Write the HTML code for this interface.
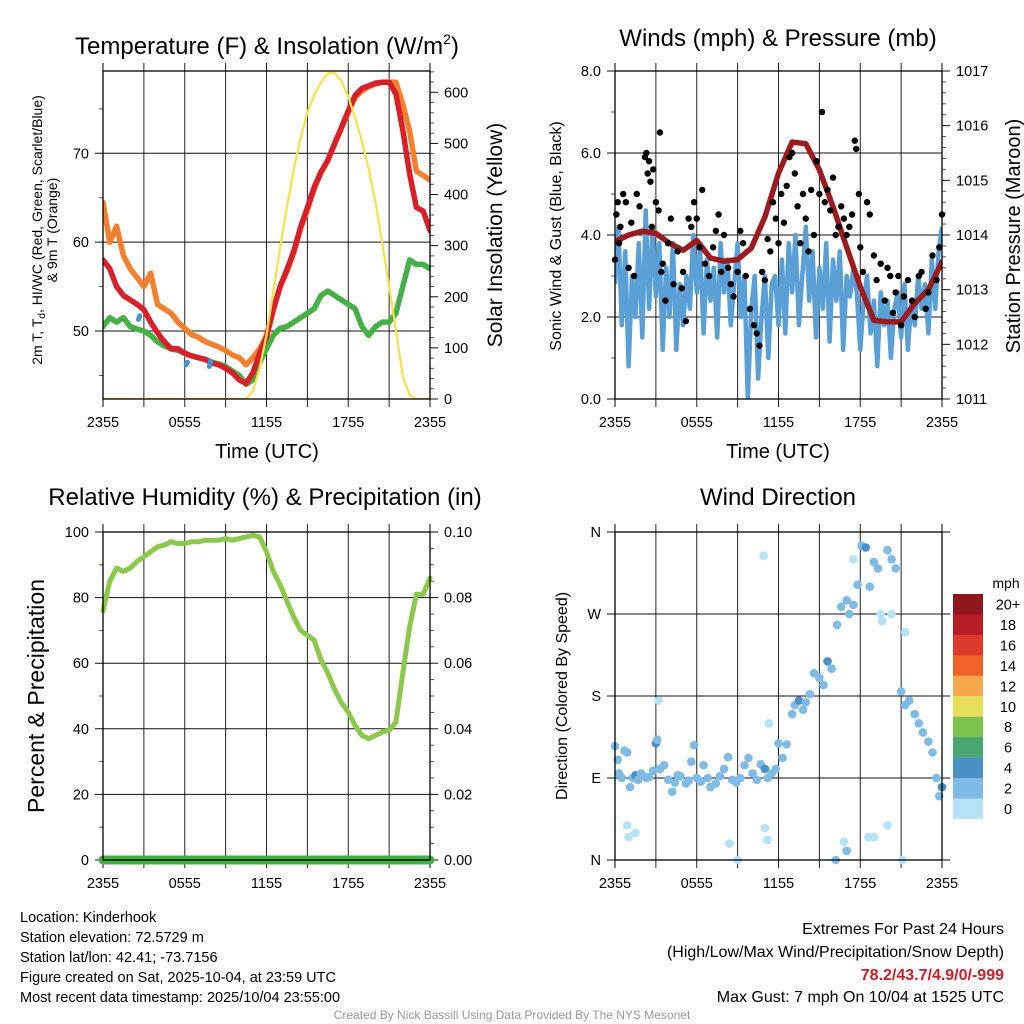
<!DOCTYPE html>
<html><head><meta charset="utf-8">
<style>
html,body{margin:0;padding:0;background:#fff;}
svg{display:block;font-family:"Liberation Sans",sans-serif;}
</style></head>
<body>
<svg id="chart" width="1024" height="1024" viewBox="0 0 1024 1024" xmlns="http://www.w3.org/2000/svg">
<rect x="0" y="0" width="1024" height="1024" fill="#fff"/>
<text x="267" y="54" font-size="24" text-anchor="middle">Temperature (F) &amp; Insolation (W/m<tspan font-size="14" dy="-10">2</tspan><tspan dy="10">)</tspan></text>
<text x="778" y="46" font-size="24" text-anchor="middle">Winds (mph) &amp; Pressure (mb)</text>
<text x="265" y="505" font-size="24" text-anchor="middle">Relative Humidity (%) &amp; Precipitation (in)</text>
<text x="778" y="505" font-size="24" text-anchor="middle">Wind Direction</text>

<text transform="translate(42,230) rotate(-90)" font-size="14" text-anchor="middle">2m T, T<tspan font-size="10" dy="3">d</tspan><tspan dy="-3">, HI/WC (Red, Green, Scarlet/Blue)</tspan></text>
<text transform="translate(57,230) rotate(-90)" font-size="14" text-anchor="middle">&amp; 9m T (Orange)</text>
<text transform="translate(502,235) rotate(-90)" font-size="21" text-anchor="middle">Solar Insolation (Yellow)</text>
<text x="267" y="458" font-size="20" text-anchor="middle">Time (UTC)</text>
<text transform="translate(561,236) rotate(-90)" font-size="16" text-anchor="middle">Sonic Wind &amp; Gust (Blue, Black)</text>
<text transform="translate(1020,236) rotate(-90)" font-size="20" text-anchor="middle">Station Pressure (Maroon)</text>
<text x="778" y="458" font-size="20" text-anchor="middle">Time (UTC)</text>
<text transform="translate(44,696) rotate(-90)" font-size="23" text-anchor="middle">Percent &amp; Precipitation</text>
<text transform="translate(567,696) rotate(-90)" font-size="16" text-anchor="middle">Direction (Colored By Speed)</text>

<g font-size="14.5">
<text x="20" y="922">Location: Kinderhook</text>
<text x="20" y="942">Station elevation: 72.5729 m</text>
<text x="20" y="962">Station lat/lon: 42.41; -73.7156</text>
<text x="20" y="982">Figure created on Sat, 2025-10-04, at 23:59 UTC</text>
<text x="20" y="1002">Most recent data timestamp: 2025/10/04 23:55:00</text>
</g>
<g font-size="16" text-anchor="end">
<text x="1004" y="934">Extremes For Past 24 Hours</text>
<text x="1004" y="957">(High/Low/Max Wind/Precipitation/Snow Depth)</text>
<text x="1004" y="980" fill="#c8202a" font-weight="bold">78.2/43.7/4.9/0/-999</text>
<text x="1004" y="1002">Max Gust: 7 mph On 10/04 at 1525 UTC</text>
</g>
<text x="512" y="1019" font-size="12" fill="#999" text-anchor="middle">Created By Nick Bassill Using Data Provided By The NYS Mesonet</text>
</svg>
<script>
// ---------- data ----------
const halfHours = [];
for (let i = 0; i <= 48; i++) halfHours.push(i * 0.5);
const temp2m = [58,57,55,54,53.5,53,52.4,51,49.8,48.8,48,48,47.5,47.2,47,46.8,46.4,46.2,45.8,45.3,44.5,44.1,45.3,47.5,49.3,52.4,55,56.9,59,61.7,63.9,66.2,67.9,69.2,71.1,72.9,74.8,76.5,77.3,77.6,77.9,78,78,76.7,72.6,67.7,63.9,63.5,61.3];
const temp9m = [64.5,60,61.8,58.5,57,56,55,56.5,53,52.5,52,51,50.3,49.6,49.3,48.8,48.5,48.2,47.8,47.3,47,46.2,47,48,49.5,52.4,55,56.7,58.8,61.5,63.6,66,67.8,69.2,71,72.8,74.6,76.3,77,77.5,77.8,78,78,78,75.5,72.5,68,67.5,67];
const dewpoint = [50.5,51.5,51,51.5,50.5,50.2,50,49.5,48.8,48.3,48,47.8,47.5,47.2,47,46.8,46.5,46.3,46,45.5,45,44,44.5,46.5,48,49.5,50.3,50.5,51,51.5,52,52.5,54,54.5,54,53.5,53,52.5,50.5,49.5,50.5,51,51,52,55,58,57.5,57.5,57];
const solar = [0,0,0,0,0,0,0,0,0,0,0,0,0,0,0,0,0,0,0,0,0,0,15,60,125,210,295,375,450,510,560,595,620,637,638,622,591,550,505,450,385,305,220,135,45,8,0,0,0];
const windChillHours = [2.6,2.7,6.1,6.2,7.8,7.9,9.1];
const windChillVals = [51.3,51.7,46.2,46.5,46.0,46.6,45.6];

const windHours = [];
for (let i = 0; i <= 96; i++) windHours.push(i * 0.25);
const windSpeed = [2.8,4.2,1.8,3.6,0.8,3.0,2.0,3.8,1.5,4.6,2.2,4.2,2.5,
 3.8,1.2,3.2,2.0,3.8,1.2,2.8,1.8,3.0,2.2,4.0,2.6,
 3.6,1.6,3.4,2.4,3.2,1.5,3.8,2.6,3.4,1.8,2.8,3.8,
 2.0,3.0,0.0,2.2,3.0,0.5,2.0,3.0,1.0,2.8,3.0,1.8,
 3.4,1.6,3.8,2.6,4.0,1.8,3.0,4.2,2.4,3.6,1.5,3.2,
 2.2,3.8,1.4,3.4,2.4,3.6,1.2,3.0,2.5,3.2,2.6,1.2,
 2.4,3.0,1.6,2.4,0.8,2.6,1.8,2.4,1.0,2.2,2.6,1.5,
 2.8,1.2,2.4,1.8,3.0,2.2,2.8,1.6,3.4,2.2,3.6,4.2];
const gustHours = [0.0,0.1,0.2,0.3,0.4,0.6,0.8,1.0,1.2,1.4,1.6,1.8,2.2,2.3,2.4,2.5,2.6,2.7,2.8,3.0,3.2,3.3,3.4,3.5,3.7,3.9,4.1,4.3,4.6,4.9,5.0,5.2,5.4,5.6,5.8,6.0,6.2,6.4,6.6,6.9,7.2,7.4,7.6,7.8,8.0,8.3,8.5,8.7,9.0,9.2,9.4,9.6,9.9,10.2,10.4,10.6,10.8,11.0,11.2,11.4,11.6,11.8,12.0,12.2,12.4,12.6,12.8,13.0,13.2,13.4,13.6,13.8,14.0,14.2,14.4,14.6,14.8,15.0,15.2,15.4,15.6,15.8,16.0,16.2,16.4,16.6,16.8,17.0,17.2,17.4,17.6,17.7,17.9,18.0,18.2,18.5,18.7,19.0,19.2,19.5,19.8,20.0,20.2,20.4,20.6,20.8,21.0,21.2,21.5,21.8,22.0,22.3,22.5,22.8,23.0,23.3,23.6,23.8,24.0];
const gustVals = [3.4,4.5,4.8,3.8,4.2,5.0,4.8,3.2,4.3,3.0,5.0,4.7,5.9,6.0,5.5,5.8,5.3,4.2,5.6,4.8,4.6,6.5,3.1,3.3,2.4,3.8,4.4,2.8,3.6,2.7,3.1,1.9,4.4,4.2,4.8,4.4,3.7,5.1,3.3,3.0,3.7,4.1,4.5,3.1,4.0,3.2,2.8,2.5,3.1,4.1,3.8,3.0,2.2,1.8,1.6,1.3,3.1,2.9,3.9,3.6,4.8,4.4,3.8,5.0,4.3,5.2,5.9,6.0,5.5,4.7,3.8,5.0,4.4,3.6,5.1,4.0,5.8,5.0,7.0,4.8,5.1,4.6,5.4,4.0,4.2,4.7,4.4,4.0,4.2,4.5,6.3,6.1,5.0,3.7,3.1,4.8,4.5,3.5,2.9,3.3,2.4,3.2,3.0,2.1,2.6,3.0,1.8,2.5,2.9,2.4,2.0,3.0,3.1,2.2,2.6,3.5,2.9,3.7,4.5];
const pressHours = [0,1,2,3,4,5,6,7,8,9,10,11,12,13,14,15,16,17,18,19,20,21,22,23,24];
const pressure = [1013.88,1014.0,1014.07,1014.03,1013.85,1013.72,1013.9,1013.58,1013.52,1013.55,1013.76,1014.33,1015.13,1015.7,1015.67,1015.19,1014.52,1013.78,1013.05,1012.44,1012.41,1012.41,1012.75,1013.0,1013.51];

const rh = [76,85,89,88,89,91,92.5,94,95.5,96,97,96.5,96.5,97,97,97.5,97.5,97.5,98,97.5,98,98.5,99,98.5,94,88,84,79,74,70,68.5,67,61,57,52,48,45,41,38,37,38,39,39.5,42,57,71,81,81,86];
const precipHours = [0,24];
const precip = [0,0];

const dirHours = [0.0,0.2,0.3,0.5,0.7,0.9,1.1,1.3,1.5,1.7,1.9,2.1,2.3,2.5,2.8,3.0,3.1,3.3,3.6,3.9,4.2,4.4,4.6,4.8,5.2,5.4,5.6,5.8,6.0,6.3,6.5,6.8,7.0,7.4,7.7,8.0,8.3,8.6,8.9,9.2,9.5,9.8,10.1,10.4,10.7,11.0,11.2,11.5,11.8,12.0,12.3,12.6,13.0,13.2,13.5,13.8,14.0,14.3,14.6,15.0,15.3,15.6,15.9,16.3,16.6,17.0,17.2,17.5,17.8,18.1,18.4,18.7,19.0,19.3,19.6,20.0,20.3,20.6,21.0,21.3,21.6,22.0,22.3,22.6,23.0,23.3,23.6,23.8,24.0,
 0.9,1.0,1.5,3.2,8.4,9.0,10.9,11.0,11.2,11.3,16.2,16.8,17.0,17.5,18.6,19.0,19.5,20.0,20.3,21.1,21.3];
const dirDeg = [125,110,95,90,120,118,80,90,93,88,95,92,90,91,98,128,132,100,104,88,75,85,93,92,84,87,108,126,90,86,104,90,80,84,92,100,113,88,85,90,104,112,95,88,105,100,90,95,100,128,112,127,160,170,175,165,173,182,205,200,192,218,210,258,278,285,270,280,302,345,343,300,327,320,262,340,330,320,185,170,175,160,150,140,130,118,90,70,80,
 38,25,30,175,18,0,334,35,22,150,0,20,10,330,25,25,270,38,270,0,250];
const dirSpeed = [3,3,3,3,3,3,3,3,4.5,3,3,3,3,3,3,4.5,3,3,3,3,3,3,3,3,3,3,3,3,3,3,3,3,3,3,3,3,3,3,3,3,3,3,3,3,3,4.5,3,3,3,3,3,3,3,3,4.5,3,3,3,3,3,3,4.5,3,3,3,3,3,3,3,3,4.5,3,3,3,1,3,3,3,3,3,3,3,3,3,3,3,3,3,4.5,
 1,1,1,1,1,1,1,1,1,1,3,1,3,1,1,1,1,1,1,1,1];

const speedLabels = ["20+","18","16","14","12","10","8","6","4","2","0"];
const speedColors = ["#8f171b","#b81d25","#dc3a2c","#ef6329","#f7a84a","#e6df58","#7cc24c","#49a673","#4a90c6","#80bbe6","#b6e2f8"];
const timeLabels = ["2355","0555","1155","1755","2355"];

// ---------- helpers ----------
const NS = "http://www.w3.org/2000/svg";
const svg = document.getElementById("chart");
function mk(tag, attrs, parent) {
  const e = document.createElementNS(NS, tag);
  for (const k in attrs) e.setAttribute(k, attrs[k]);
  (parent || svg).appendChild(e);
  return e;
}
function scale(d0, d1, r0, r1) { return v => r0 + (v - d0) / (d1 - d0) * (r1 - r0); }
function linePath(xs, ys, fx, fy) {
  return xs.map((x, i) => (i ? "L" : "M") + fx(x).toFixed(1) + "," + fy(ys[i]).toFixed(1)).join("");
}

function panel(name, x0, x1, y0, y1) {
  const g = mk("g", {});
  
  
  const fx = scale(0, 24, x0, x1);
  for (let h = 3; h < 24; h += 3) {
    const l = mk("line", {x1: fx(h), x2: fx(h), y1: y0 - 8, y2: y1 + 8, stroke: "#222", "stroke-width": 1}, g);
    
    
  }
  for (const h of [0, 24]) {
    const l = mk("line", {x1: fx(h), x2: fx(h), y1: y0 - 8, y2: y1 + 8, stroke: "#000", "stroke-width": 1}, g);
    
    
  }
  timeLabels.forEach((t, i) => {
    const tx = mk("text", {x: fx(i * 6), y: y1 + 28, "font-size": 14.5, "text-anchor": "middle"}, g);
    tx.textContent = t;
    
    
  });
  return {g, fx};
}
function yAxis(g, x0, x1, fy, majors, fmt, minors, side, grid) {
  majors.forEach(v => {
    const y = fy(v);
    const l = mk("line", side === "left" ? {x1: x0 - 8, x2: grid ? x1 : x0, y1: y, y2: y, stroke: "#111"} : {x1: grid ? x0 : x1, x2: x1 + 8, y1: y, y2: y, stroke: "#111"}, g);
    
    
    const t = mk("text", {x: side === "left" ? x0 - 14 : x1 + 14, y: y + 5, "font-size": 14.5, "text-anchor": side === "left" ? "end" : "start"}, g);
    t.textContent = fmt(v);
    
    
  });
  minors.forEach(v => {
    const y = fy(v);
    const l = mk("line", side === "left" ? {x1: x0 - 4, x2: x0, y1: y, y2: y, stroke: "#555"} : {x1: x1, x2: x1 + 4, y1: y, y2: y, stroke: "#555"}, g);
    
    
  });
}
function frame(g, x0, x1, y0, y1) {
  const r = mk("rect", {x: x0, y: y0, width: x1 - x0, height: y1 - y0, fill: "none", stroke: "#000", "stroke-width": 1.3}, g);
  
  
}
function range(a, b, s) { const o = []; for (let v = a; v <= b + 1e-9; v += s) o.push(+v.toFixed(4)); return o; }

// ---------- panel 1: temperature ----------
{
  const x0 = 103, x1 = 430, y0 = 71, y1 = 399;
  const {g, fx} = panel("temperature-panel", x0, x1, y0, y1);
  const fy = scale(50, 70, 331, 153.3);
  const fs = scale(0, 600, 399, 92.3);
  yAxis(g, x0, x1, fy, [50, 60, 70], v => v, [45, 55, 65, 75], "left", true);
  yAxis(g, x0, x1, fs, [0, 100, 200, 300, 400, 500, 600], v => v, range(20, 640, 20).filter(v => v % 100), "right", false);
  const clip = mk("clipPath", {id: "c1"}, g);
  mk("rect", {x: x0, y: y0 - 2, width: x1 - x0, height: y1 - y0 + 2}, clip);
  const s = mk("g", {"clip-path": "url(#c1)"}, g);
  const series = [
    [dewpoint, "#45b045", "dewpoint-line"],
    [temp9m, "#f47f2e", "temperature-9m-line"],
    [temp2m, "#d7202a", "temperature-2m-line"]
  ];
  series.forEach(([d, c, n]) => {
    const p = mk("path", {d: linePath(halfHours, d, fx, fy), fill: "none", stroke: c, "stroke-width": 5.5, "stroke-linejoin": "round", "stroke-linecap": "round"}, s);
    
    
  });
  for (let i = 0; i < windChillHours.length; i += 2) {
    const p = mk("path", {d: linePath(windChillHours.slice(i, i + 2), windChillVals.slice(i, i + 2), fx, fy), stroke: "#4b92d0", "stroke-width": 5, "stroke-linecap": "round"}, s);
    
    
  }
  const sp = mk("path", {d: linePath(halfHours, solar, fx, fs), fill: "none", stroke: "#fbe04a", "stroke-width": 2.2, "stroke-linejoin": "round"}, s);
  
  
  frame(g, x0, x1, y0, y1);
}

// ---------- panel 2: winds ----------
{
  const x0 = 615, x1 = 942, y0 = 71, y1 = 399;
  const {g, fx} = panel("winds-panel", x0, x1, y0, y1);
  const fy = scale(0, 8, 399, 71);
  const fp = scale(1011, 1017, 399, 71);
  yAxis(g, x0, x1, fy, [0, 2, 4, 6, 8], v => v.toFixed(1), [1, 3, 5, 7], "left", true);
  yAxis(g, x0, x1, fp, [1011, 1012, 1013, 1014, 1015, 1016, 1017], v => v, range(1011.2, 1016.8, 0.2).filter(v => Math.abs(v - Math.round(v)) > 0.05), "right", false);
  const clip = mk("clipPath", {id: "c2"}, g);
  mk("rect", {x: x0, y: y0 - 4, width: x1 - x0, height: y1 - y0 + 4}, clip);
  const s = mk("g", {"clip-path": "url(#c2)"}, g);
  const wp = mk("path", {d: linePath(windHours, windSpeed, fx, fy), fill: "none", stroke: "#5a9fd6", "stroke-width": 4.5, "stroke-linejoin": "round"}, s);
  
  
  gustHours.forEach((h, i) => {
    const c = mk("circle", {cx: fx(h), cy: fy(gustVals[i]), r: 3.2, fill: "#000"}, g);
    
    
  });
  const pp = mk("path", {d: linePath(pressHours, pressure, fx, fp), fill: "none", stroke: "#9b1b1e", "stroke-width": 5.5, "stroke-linejoin": "round", "stroke-linecap": "round"}, s);
  
  
  frame(g, x0, x1, y0, y1);
}

// ---------- panel 3: humidity ----------
{
  const x0 = 103, x1 = 430, y0 = 532, y1 = 860;
  const {g, fx} = panel("humidity-panel", x0, x1, y0, y1);
  const fy = scale(0, 100, 860, 532);
  const fr = scale(0, 0.1, 860, 532);
  yAxis(g, x0, x1, fy, [0, 20, 40, 60, 80, 100], v => v, [10, 30, 50, 70, 90], "left", true);
  yAxis(g, x0, x1, fr, [0, 0.02, 0.04, 0.06, 0.08, 0.1], v => v.toFixed(2), range(0.005, 0.095, 0.005).filter(v => Math.abs(v * 50 - Math.round(v * 50)) > 0.01), "right", false);
  const rp = mk("path", {d: linePath(halfHours, rh, fx, fy), fill: "none", stroke: "#8cc84b", "stroke-width": 5, "stroke-linejoin": "round", "stroke-linecap": "round"}, g);
  
  
  const pp = mk("path", {d: linePath(precipHours, precip, fx, fr), fill: "none", stroke: "#45b045", "stroke-width": 9, "stroke-linecap": "round"}, g);
  
  
  frame(g, x0, x1, y0, y1);
}

// ---------- panel 4: wind direction ----------
{
  const x0 = 615, x1 = 942, y0 = 532, y1 = 860;
  const {g, fx} = panel("wind-direction-panel", x0, x1, y0, y1);
  const fy = scale(0, 360, 860, 532);
  const dirLabels = ["N", "E", "S", "W", "N"];
  dirLabels.forEach((t, i) => {
    const y = fy(i * 90);
    const l = mk("line", {x1: x0 - 8, x2: x1 + 8, y1: y, y2: y, stroke: "#111"}, g);
    
    
    const tx = mk("text", {x: x0 - 14, y: y + 5, "font-size": 14.5, "text-anchor": "end"}, g);
    tx.textContent = t;
    
    
  });
  dirHours.forEach((h, i) => {
    const idx = Math.min(10, Math.floor(dirSpeed[i] / 2));
    const c = mk("circle", {cx: fx(h), cy: fy(dirDeg[i]), r: 4.3, fill: speedColors[10 - idx]}, g);
    
    
  });
  frame(g, x0, x1, y0, y1);
  const cb = mk("g", {});
  
  
  const mt = mk("text", {x: 1006, y: 588, "font-size": 14, "text-anchor": "middle"}, cb);
  mt.textContent = "mph";
  
  
  speedLabels.forEach((lab, i) => {
    const y = 594 + i * 20.45;
    const r = mk("rect", {x: 953, y: y, width: 30, height: 20.6, fill: speedColors[i]}, cb);
    
    
    const t = mk("text", {x: 1008, y: y + 15.5, "font-size": 14.5, "text-anchor": "middle"}, cb);
    t.textContent = lab;
    
    
  });
}
</script>
</body></html>
